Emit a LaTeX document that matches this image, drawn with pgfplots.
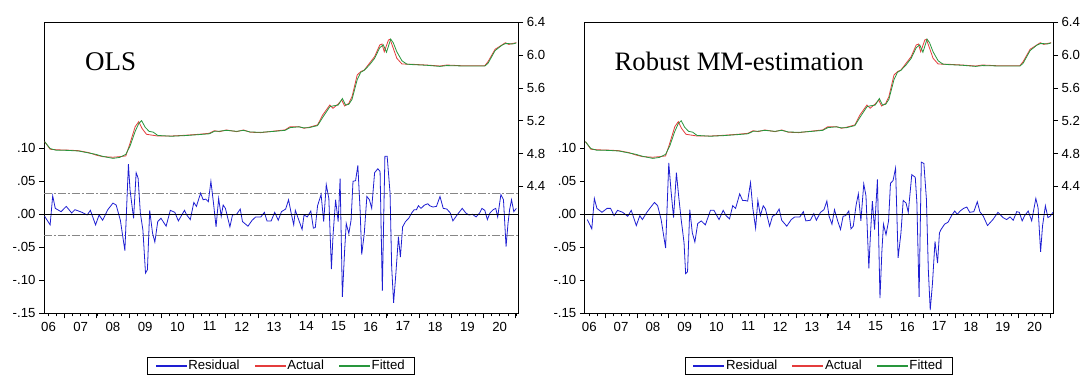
\documentclass[border=0pt]{standalone}
\usepackage{pgfplots}
\pgfplotsset{compat=1.18}
\usepackage{pgfplotstable}
\usepackage{fontspec}
\setmainfont{Liberation Sans}
\newfontfamily\tnr{Liberation Serif}
\definecolor{resblue}{RGB}{30,30,210}
\definecolor{actred}{RGB}{228,60,60}
\definecolor{fitgreen}{RGB}{40,150,60}
\definecolor{dashgray}{RGB}{135,135,135}

\pgfplotstableread{
t v
2006.38 -0.003
2006.55 -0.016
2006.63 0.028
2006.71 0.009
2006.89 0.004
2007.05 0.012
2007.22 0.002
2007.32 0.007
2007.54 0.003
2007.70 -0.001
2007.80 0.006
2007.96 -0.016
2008.07 -0.001
2008.18 -0.009
2008.34 0.007
2008.50 0.017
2008.60 0.014
2008.73 -0.009
2008.87 -0.055
2008.98 0.076
2009.03 0.037
2009.14 -0.006
2009.22 0.063
2009.28 0.055
2009.35 0.002
2009.43 -0.024
2009.51 -0.089
2009.57 -0.084
2009.64 0.006
2009.73 -0.029
2009.80 -0.042
2009.89 -0.011
2009.99 -0.006
2010.15 -0.018
2010.28 0.006
2010.42 0.003
2010.53 -0.010
2010.72 0.006
2010.79 -0.001
2010.90 -0.008
2011.01 0.018
2011.09 0.012
2011.22 0.032
2011.30 0.022
2011.38 0.023
2011.46 0.019
2011.54 0.050
2011.62 0.017
2011.70 -0.019
2011.78 0.024
2011.86 -0.003
2011.92 0.014
2011.99 0.009
2012.13 -0.019
2012.21 -0.001
2012.34 0.000
2012.45 0.008
2012.52 -0.011
2012.69 -0.018
2012.82 -0.009
2012.93 -0.004
2013.09 -0.004
2013.20 0.003
2013.28 -0.010
2013.41 -0.010
2013.52 0.003
2013.63 -0.009
2013.73 0.004
2013.86 0.008
2013.95 0.022
2014.03 0.002
2014.11 -0.016
2014.16 0.006
2014.27 -0.009
2014.37 -0.023
2014.43 -0.001
2014.53 -0.004
2014.64 0.005
2014.72 -0.021
2014.78 -0.020
2014.85 0.013
2014.96 0.030
2015.04 -0.011
2015.12 0.045
2015.20 0.024
2015.28 -0.083
2015.33 -0.032
2015.41 0.022
2015.49 -0.011
2015.55 0.054
2015.62 -0.125
2015.69 -0.055
2015.74 -0.014
2015.82 -0.029
2015.89 -0.009
2015.95 0.050
2016.03 0.051
2016.10 0.074
2016.17 0.007
2016.22 -0.061
2016.30 -0.029
2016.38 0.027
2016.46 0.022
2016.53 0.009
2016.62 0.063
2016.72 0.069
2016.79 0.065
2016.86 -0.116
2016.94 0.088
2017.01 0.088
2017.10 0.032
2017.15 -0.080
2017.21 -0.134
2017.28 -0.090
2017.36 -0.034
2017.42 -0.065
2017.49 -0.019
2017.58 -0.011
2017.68 -0.006
2017.77 0.002
2017.85 0.007
2017.92 0.007
2017.98 0.013
2018.06 0.009
2018.17 0.014
2018.27 0.016
2018.33 0.013
2018.43 0.011
2018.54 0.012
2018.65 0.027
2018.75 0.009
2018.86 0.008
2018.97 0.002
2019.05 -0.010
2019.18 -0.001
2019.34 0.009
2019.45 0.002
2019.55 -0.001
2019.66 0.000
2019.77 -0.004
2019.88 0.002
2019.95 0.009
2020.04 0.006
2020.12 -0.008
2020.20 0.002
2020.30 0.007
2020.38 0.009
2020.44 -0.004
2020.54 0.030
2020.62 0.022
2020.70 -0.049
2020.76 -0.014
2020.81 0.007
2020.87 0.022
2020.94 0.004
2021.02 0.009
}\resOLS

\pgfplotstableread{
t v
2006.44 -0.008
2006.58 -0.022
2006.66 0.024
2006.74 0.009
2006.90 0.003
2007.06 0.009
2007.17 0.009
2007.28 -0.002
2007.39 0.006
2007.55 0.003
2007.71 -0.003
2007.82 0.006
2007.98 -0.017
2008.09 -0.002
2008.17 -0.008
2008.31 0.003
2008.42 0.010
2008.55 0.018
2008.65 0.013
2008.76 -0.008
2008.90 -0.051
2009.00 0.078
2009.07 0.036
2009.15 -0.005
2009.24 0.063
2009.31 0.028
2009.39 -0.008
2009.48 -0.043
2009.53 -0.090
2009.59 -0.087
2009.66 0.007
2009.74 -0.028
2009.82 -0.042
2009.91 -0.014
2010.02 -0.010
2010.15 -0.016
2010.31 0.006
2010.42 0.006
2010.58 -0.008
2010.71 0.006
2010.80 -0.002
2010.91 -0.007
2011.01 0.013
2011.10 0.009
2011.23 0.031
2011.32 0.021
2011.39 0.021
2011.48 0.020
2011.57 0.048
2011.64 0.010
2011.73 -0.021
2011.80 0.021
2011.88 -0.002
2011.97 0.013
2012.04 0.008
2012.17 -0.018
2012.26 -0.003
2012.37 0.000
2012.47 0.008
2012.55 -0.009
2012.71 -0.018
2012.85 -0.008
2012.96 -0.004
2013.12 -0.004
2013.23 0.004
2013.31 -0.010
2013.45 -0.009
2013.56 0.001
2013.64 -0.009
2013.77 0.003
2013.88 0.007
2013.97 0.020
2014.04 -0.003
2014.13 -0.015
2014.21 0.007
2014.31 -0.010
2014.40 -0.023
2014.48 -0.003
2014.56 -0.002
2014.66 0.005
2014.73 -0.022
2014.80 -0.018
2014.89 0.014
2014.96 0.031
2015.04 -0.010
2015.13 0.046
2015.20 0.028
2015.29 -0.082
2015.34 -0.031
2015.40 0.020
2015.47 -0.023
2015.56 0.053
2015.64 -0.127
2015.70 -0.056
2015.75 -0.015
2015.83 -0.031
2015.91 -0.010
2015.97 0.047
2016.05 0.051
2016.13 0.070
2016.21 -0.066
2016.30 -0.028
2016.37 0.021
2016.46 0.017
2016.53 0.003
2016.64 0.060
2016.75 0.056
2016.80 0.018
2016.87 -0.125
2016.94 0.079
2017.02 0.077
2017.10 0.023
2017.16 -0.084
2017.22 -0.145
2017.29 -0.105
2017.37 -0.041
2017.45 -0.074
2017.51 -0.028
2017.56 -0.023
2017.67 -0.015
2017.78 -0.012
2017.89 -0.002
2017.99 0.005
2018.07 0.000
2018.16 0.005
2018.27 0.009
2018.37 0.011
2018.46 0.003
2018.59 0.004
2018.70 0.019
2018.78 0.004
2018.89 -0.003
2019.02 -0.017
2019.19 -0.008
2019.35 0.003
2019.51 -0.005
2019.62 -0.008
2019.73 -0.004
2019.83 -0.009
2019.94 0.004
2020.02 0.003
2020.11 -0.010
2020.19 -0.002
2020.30 0.005
2020.41 -0.010
2020.54 0.024
2020.61 0.010
2020.69 -0.057
2020.75 -0.018
2020.84 0.013
2020.92 -0.005
2020.99 -0.003
2021.08 0.003
}\resMM

\pgfplotstableread{
t v
2006.38 4.944
2006.47 4.895
2006.55 4.851
2006.73 4.846
2006.89 4.843
2007.16 4.840
2007.43 4.834
2007.75 4.810
2007.96 4.782
2008.18 4.761
2008.50 4.754
2008.71 4.761
2008.90 4.770
2009.03 4.924
2009.19 5.127
2009.30 5.188
2009.40 5.107
2009.54 5.034
2009.67 5.026
2009.89 5.013
2010.31 5.013
2010.74 5.022
2011.17 5.034
2011.49 5.046
2011.65 5.078
2011.81 5.066
2012.02 5.087
2012.34 5.066
2012.55 5.087
2012.76 5.059
2013.09 5.054
2013.52 5.074
2013.84 5.087
2014.00 5.127
2014.27 5.127
2014.43 5.107
2014.59 5.120
2014.85 5.148
2015.01 5.270
2015.23 5.391
2015.33 5.351
2015.49 5.404
2015.60 5.452
2015.69 5.379
2015.82 5.412
2015.92 5.493
2016.08 5.757
2016.19 5.798
2016.30 5.818
2016.46 5.900
2016.62 5.981
2016.78 6.123
2016.85 6.135
2016.92 6.041
2017.05 6.184
2017.10 6.193
2017.20 6.083
2017.31 5.961
2017.47 5.891
2017.79 5.888
2018.22 5.879
2018.65 5.867
2018.86 5.879
2019.29 5.871
2019.72 5.871
2020.04 5.871
2020.14 5.920
2020.36 6.071
2020.57 6.123
2020.68 6.151
2020.79 6.130
2020.90 6.142
2021.02 6.151
}\actual

\pgfplotstableread{
t v
2006.38 4.944
2006.47 4.900
2006.55 4.860
2006.73 4.840
2006.89 4.840
2007.16 4.836
2007.43 4.830
2007.75 4.806
2007.96 4.790
2008.18 4.765
2008.50 4.740
2008.71 4.752
2008.90 4.790
2009.03 4.890
2009.19 5.070
2009.30 5.165
2009.39 5.200
2009.50 5.120
2009.62 5.070
2009.75 5.060
2009.89 5.020
2010.31 5.010
2010.74 5.018
2011.17 5.030
2011.49 5.040
2011.65 5.070
2011.81 5.072
2012.02 5.082
2012.34 5.070
2012.55 5.082
2012.76 5.062
2013.09 5.058
2013.52 5.070
2013.84 5.082
2014.00 5.115
2014.27 5.125
2014.43 5.112
2014.59 5.115
2014.85 5.140
2015.01 5.240
2015.23 5.370
2015.33 5.380
2015.49 5.390
2015.62 5.470
2015.72 5.390
2015.82 5.400
2015.92 5.460
2016.08 5.700
2016.19 5.790
2016.30 5.815
2016.46 5.880
2016.62 5.960
2016.78 6.090
2016.89 6.125
2016.99 6.035
2017.12 6.195
2017.20 6.150
2017.31 6.040
2017.47 5.930
2017.62 5.890
2017.79 5.884
2018.22 5.876
2018.65 5.862
2018.86 5.872
2019.29 5.868
2019.72 5.868
2020.04 5.866
2020.14 5.900
2020.36 6.055
2020.57 6.120
2020.68 6.140
2020.79 6.140
2020.90 6.135
2021.02 6.148
}\fitted

\pgfplotsset{
  tickfont/.style={font=\fontsize{13.2}{15}\selectfont},
  common/.style={
    scale only axis, anchor=south west, height=291pt,
    xmin=2006.36, xmax=2021.08,
    tick align=outside,
    major tick length=5pt, minor tick length=3pt,
    axis line style={line width=0.8pt, black},
    every tick/.style={black, line width=0.7pt},
    tick label style={tickfont},
  },
  resaxis/.style={
    common,
    ymin=-0.15, ymax=0.2909,
    xtick={2007,2008,...,2021},
    xticklabels={06,07,08,09,10,11,12,13,14,15,16,17,18,19,20},
    minor xtick={2006.5,2006.75,...,2021},
    ytick={-0.15,-0.1,-0.05,0,0.05,0.1},
    yticklabels={-.15,-.10,-.05,.00,.05,.10},
    xtick pos=bottom, ytick pos=left,
  },
  levaxis/.style={
    common,
    ymin=2.85, ymax=6.4,
    axis x line=none, axis y line*=right,
    ytick={4.4,4.8,5.2,5.6,6.0,6.4},
    yticklabels={4.4,4.8,5.2,5.6,6.0,6.4},
    legend columns=3,
    legend style={draw=black, line width=0.7pt, anchor=north,
      font=\fontsize{13.2}{15}\selectfont, inner xsep=8pt, inner ysep=1pt,
      /tikz/every even column/.append style={column sep=13pt}},
  },
  legblue/.style={legend image code/.code={\fill[resblue] (0pt,-0.55pt) rectangle (30pt,0.55pt);}},
  legred/.style={legend image code/.code={\fill[actred] (0pt,-0.55pt) rectangle (30pt,0.55pt);}},
  leggreen/.style={legend image code/.code={\fill[fitgreen] (0pt,-0.55pt) rectangle (30pt,0.55pt);}},
}

\begin{document}
\begin{tikzpicture}[x=1pt,y=1pt]
\path[use as bounding box] (0,0) rectangle (1081,376);

% ---------- OLS panel ----------
\begin{axis}[resaxis, at={(44pt,62.7pt)}, width=474.3pt,
  xticklabel style={xshift=-16.11pt}]
\addplot[dashgray, line width=0.7pt, dash pattern=on 8pt off 2pt on 2pt off 2pt] coordinates {(2006.36,0.032) (2021.08,0.032)};
\addplot[dashgray, line width=0.7pt, dash pattern=on 8pt off 2pt on 2pt off 2pt] coordinates {(2006.36,-0.032) (2021.08,-0.032)};
\addplot[resblue, line width=0.8pt] table[x=t,y=v] {\resOLS};
\addplot[black, line width=0.8pt] coordinates {(2006.36,0) (2021.08,0)};
\node[anchor=base west, inner sep=0pt, font=\tnr\fontsize{27}{31}\selectfont] at (rel axis cs:0.0865,0.8327) {OLS};
\end{axis}
\begin{axis}[levaxis, at={(44pt,62.7pt)}, width=474.3pt,
  legend style={at={(0.5,-0.1491)}}]
\addplot[actred, line width=0.8pt, forget plot] table[x=t,y=v] {\actual};
\addplot[fitgreen, line width=0.8pt, forget plot] table[x=t,y=v] {\fitted};
\addlegendimage{legblue}
\addlegendentry{Residual}
\addlegendimage{legred}
\addlegendentry{Actual}
\addlegendimage{leggreen}
\addlegendentry{Fitted}
\end{axis}

% ---------- Robust MM panel ----------
\begin{axis}[resaxis, at={(584.8pt,62.7pt)}, width=468.2pt,
  xticklabel style={xshift=-15.9pt}]
\addplot[resblue, line width=0.8pt] table[x=t,y=v] {\resMM};
\addplot[black, line width=0.8pt] coordinates {(2006.36,0) (2021.08,0)};
\node[anchor=base west, inner sep=0pt, font=\tnr\fontsize{26.6}{31}\selectfont] at (rel axis cs:0.0635,0.836) {Robust MM-estimation};
\end{axis}
\begin{axis}[levaxis, at={(584.8pt,62.7pt)}, width=468.2pt,
  legend style={at={(0.5,-0.1491)}}]
\addplot[actred, line width=0.8pt, forget plot] table[x=t,y=v] {\actual};
\addplot[fitgreen, line width=0.8pt, forget plot] table[x=t,y=v] {\fitted};
\addlegendimage{legblue}
\addlegendentry{Residual}
\addlegendimage{legred}
\addlegendentry{Actual}
\addlegendimage{leggreen}
\addlegendentry{Fitted}
\end{axis}
\end{tikzpicture}
\end{document}
